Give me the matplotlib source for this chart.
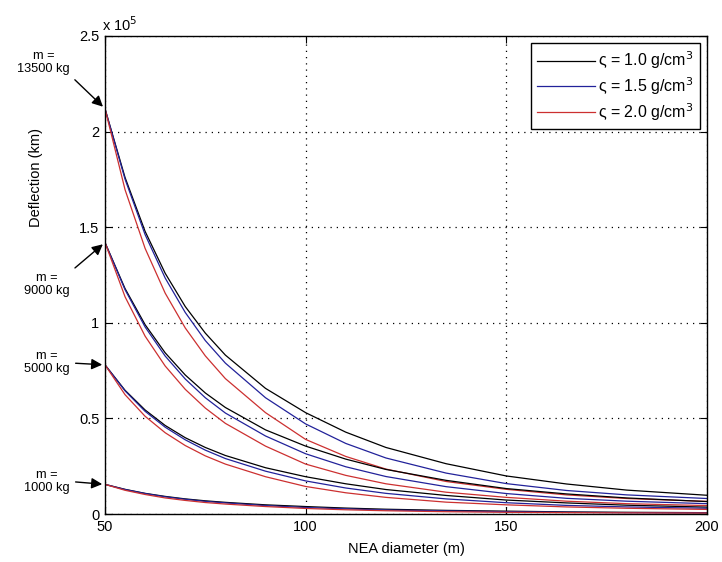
import matplotlib
matplotlib.use("Agg")
import matplotlib.pyplot as plt

plt.rcParams['font.family'] = ['Liberation Sans', 'DejaVu Sans']

diam = [50, 55, 60, 65, 70, 75, 80, 90, 100, 110, 120, 135, 150, 165, 180, 200]

# deflection in units of 1e5 km, per mass group: black (1.0), blue (1.5), red (2.0 g/cm3)
m13500_k = [2.12, 1.760, 1.478, 1.259, 1.085, 0.946, 0.831, 0.657, 0.530, 0.428, 0.348, 0.263, 0.199, 0.157, 0.125, 0.098]
m13500_b = [2.12, 1.751, 1.461, 1.234, 1.054, 0.907, 0.789, 0.608, 0.471, 0.369, 0.293, 0.214, 0.159, 0.123, 0.100, 0.081]
m13500_r = [2.12, 1.696, 1.389, 1.155, 0.973, 0.827, 0.708, 0.530, 0.390, 0.301, 0.235, 0.170, 0.129, 0.100, 0.081, 0.066]

m9000_k = [1.42, 1.179, 0.990, 0.843, 0.727, 0.633, 0.557, 0.440, 0.355, 0.287, 0.233, 0.176, 0.133, 0.105, 0.084, 0.065]
m9000_b = [1.42, 1.173, 0.978, 0.826, 0.706, 0.608, 0.528, 0.408, 0.315, 0.247, 0.196, 0.143, 0.107, 0.082, 0.067, 0.054]
m9000_r = [1.42, 1.136, 0.930, 0.774, 0.652, 0.554, 0.474, 0.355, 0.261, 0.202, 0.158, 0.114, 0.087, 0.067, 0.054, 0.044]

m5000_k = [0.78, 0.647, 0.544, 0.463, 0.399, 0.348, 0.306, 0.242, 0.195, 0.158, 0.128, 0.097, 0.073, 0.058, 0.046, 0.036]
m5000_b = [0.78, 0.644, 0.537, 0.454, 0.388, 0.334, 0.290, 0.224, 0.173, 0.136, 0.108, 0.079, 0.059, 0.045, 0.037, 0.030]
m5000_r = [0.78, 0.624, 0.511, 0.425, 0.358, 0.304, 0.261, 0.195, 0.144, 0.111, 0.087, 0.062, 0.048, 0.037, 0.030, 0.024]

m1000_k = [0.155, 0.129, 0.108, 0.092, 0.079, 0.069, 0.061, 0.048, 0.039, 0.031, 0.025, 0.019, 0.015, 0.011, 0.009, 0.007]
m1000_b = [0.155, 0.128, 0.107, 0.090, 0.077, 0.066, 0.058, 0.044, 0.034, 0.027, 0.021, 0.016, 0.012, 0.009, 0.007, 0.006]
m1000_r = [0.155, 0.124, 0.102, 0.084, 0.071, 0.060, 0.052, 0.039, 0.029, 0.022, 0.017, 0.012, 0.009, 0.007, 0.006, 0.005]

groups = [
    ("13500", m13500_k, m13500_b, m13500_r),
    ("9000", m9000_k, m9000_b, m9000_r),
    ("5000", m5000_k, m5000_b, m5000_r),
    ("1000", m1000_k, m1000_b, m1000_r),
]
legend_labels = [r"ς = 1.0 g/cm$^3$", r"ς = 1.5 g/cm$^3$", r"ς = 2.0 g/cm$^3$"]
colors = ["black", "#22229a", "#cc3030"]

fig = plt.figure(figsize=(7.22, 5.62), dpi=100)
ax = fig.add_axes([0.1454, 0.0854, 0.8338, 0.8506])

for i, (mass, k, b, r) in enumerate(groups):
    for j, ys in enumerate([k, b, r]):
        ax.plot(diam, ys, color=colors[j], lw=0.9,
                label=legend_labels[j] if i == 0 else None)

ax.set_xlim(50, 200)
ax.set_ylim(0, 2.5)
ax.set_xticks([50, 100, 150, 200])
ax.set_yticks([0, 0.5, 1, 1.5, 2, 2.5])
ax.set_yticklabels(["0", "0.5", "1", "1.5", "2", "2.5"])
ax.grid(True, color="black", linestyle=(0, (1, 4)), linewidth=0.9)
ax.tick_params(direction="in", top=True, right=True, length=5, labelsize=10.5, pad=4)
for s in ax.spines.values():
    s.set_linewidth(1.0)

ax.set_xlabel("NEA diameter (m)", fontsize=10.5, labelpad=6)
ax.set_ylabel("Deflection (km)", fontsize=10.5)
ax.yaxis.set_label_coords(-0.103, 0.703)
ax.text(-0.005, 1.005, r"x 10$^5$", transform=ax.transAxes, fontsize=10.5,
        ha="left", va="bottom")

leg = ax.legend(loc="upper right", fontsize=11.5, frameon=True, fancybox=False,
                edgecolor="black", framealpha=1, handlelength=3.6,
                borderaxespad=0.45, labelspacing=0.25, handletextpad=0.2,
                borderpad=0.4)
leg.get_frame().set_linewidth(1.0)

# mass annotations with arrows to the curve starts
label_pos = [(2.36, (1, 0)), (1.20, (1, 1)), (0.79, (1, 0.5)), (0.17, (1, 0.5))]
for (mass, k, b, r), (yoff, rp) in zip(groups, label_pos):
    ax.annotate("m =\n" + mass + " kg", xy=(diam[0], k[0]), xycoords="data",
                xytext=(-0.058, yoff), textcoords=("axes fraction", "data"),
                ha="right", va="center", fontsize=9.2, multialignment="center",
                linespacing=1.1,
                arrowprops=dict(arrowstyle="-|>", color="black", lw=1.0,
                                mutation_scale=16, shrinkA=2, shrinkB=2,
                                relpos=rp),
                annotation_clip=False)

fig.savefig("out.png", dpi=100)
